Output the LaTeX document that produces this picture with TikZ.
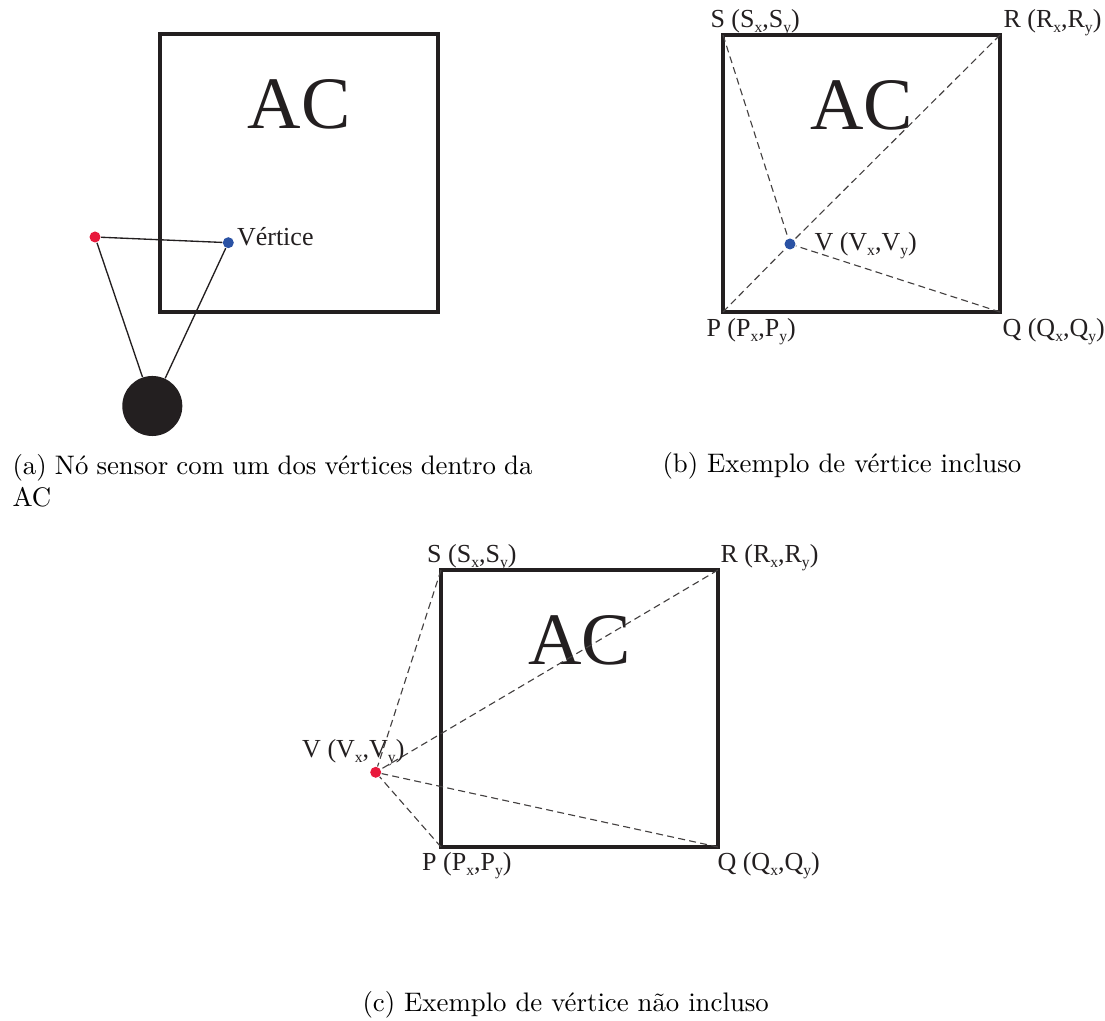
\documentclass[tikz,border=0pt]{standalone}
\usepackage{fontspec}
\newfontfamily\tnr{Liberation Serif}
\newcommand\subidx[1]{\raisebox{-1.6pt}{\fontsize{5.8}{6}\selectfont #1}}
\definecolor{dotred}{HTML}{E8193C}
\definecolor{dotblue}{HTML}{2A52A4}
\definecolor{ink}{HTML}{231F20}
\begin{document}
\begin{tikzpicture}[x=0.3731pt,y=-0.3731pt,
  area/.style={draw=ink, line width=1.15pt},
  lbl/.style={anchor=base west, inner sep=0pt, font=\tnr\fontsize{9.7}{11.6}\selectfont, text=ink},
  actext/.style={anchor=base, inner sep=0pt, font=\tnr\fontsize{27.6}{33}\selectfont, text=ink},
  dot/.style={circle, inner sep=0pt, minimum size=4.1pt},
  link/.style={draw=ink, line width=0.5pt},
  dashlink/.style={draw=ink!85, line width=0.42pt, dash pattern=on 2.6pt off 1.6pt},
  captext/.style={inner sep=0pt, font=\fontsize{10}{12}\selectfont, text=black}
]
\useasboundingbox (0,0) rectangle (1105,1021);

% ---------- panel (a)
\coordinate (aP) at (160,312);
\coordinate (aR) at (438,34);
\draw[area] (aP) rectangle (aR);
\node[actext] (aAC) at (299,129) {AC};
\node[dot, fill=dotred] (ared) at (95,237) {};
\node[dot, fill=dotblue] (ablue) at (228.3,242.7) {};
\node[circle, fill=ink, inner sep=0pt, minimum size=22.4pt] (sensor) at (152.3,406) {};
\node[lbl] (avert) at (236.5,246) {Vértice};
\draw[link] (ared) -- (ablue);
\draw[link] (ared) -- (sensor);
\draw[link] (ablue) -- (sensor);

% ---------- panel (b)
\coordinate (bP) at (723,312);
\coordinate (bQ) at (1000,312);
\coordinate (bR) at (1000,35);
\coordinate (bS) at (723,35);
\draw[area] (bP) rectangle (bR);
\node[actext] (bAC) at (861.5,130) {AC};
\node[dot, fill=dotblue] (bV) at (790,244) {};
\draw[dashlink] (bS) -- (bV);
\draw[dashlink] (bR) -- (bV);
\draw[dashlink] (bP) -- (bV);
\draw[dashlink] (bQ) -- (bV);
\node[lbl] (bSl) at (710,28) {S (S\subidx{x},S\subidx{y})};
\node[lbl] (bRl) at (1003,28) {R (R\subidx{x},R\subidx{y})};
\node[lbl] (bPl) at (706,337) {P (P\subidx{x},P\subidx{y})};
\node[lbl] (bQl) at (1002,337) {Q (Q\subidx{x},Q\subidx{y})};
\node[lbl] (bVl) at (814,251) {V (V\subidx{x},V\subidx{y})};

% ---------- panel (c)
\coordinate (cP) at (441,847);
\coordinate (cQ) at (718,847);
\coordinate (cR) at (718,570);
\coordinate (cS) at (441,570);
\draw[area] (cP) rectangle (cR);
\node[actext] (cAC) at (579.5,665) {AC};
\node[dot, fill=dotred] (cV) at (375.7,772.3) {};
\draw[dashlink] (cS) -- (cV);
\draw[dashlink] (cR) -- (cV);
\draw[dashlink] (cP) -- (cV);
\draw[dashlink] (cQ) -- (cV);
\node[lbl] (cSl) at (426.7,563) {S (S\subidx{x},S\subidx{y})};
\node[lbl] (cRl) at (720,563) {R (R\subidx{x},R\subidx{y})};
\node[lbl] (cPl) at (421.7,871) {P (P\subidx{x},P\subidx{y})};
\node[lbl] (cQl) at (717,871) {Q (Q\subidx{x},Q\subidx{y})};
\node[lbl] (cVl) at (301.7,758) {V (V\subidx{x},V\subidx{y})};

% ---------- captions
\node[captext, anchor=north west, text width=194pt, align=justify] (capa) at (12,454)
  {(a) Nó sensor com um dos vértices dentro da\linebreak AC};
\node[captext, anchor=base west] (capb) at (662,473) {(b) Exemplo de vértice incluso};
\node[captext, anchor=base west] (capc) at (362,1012) {(c) Exemplo de vértice não incluso};
\end{tikzpicture}
\end{document}
